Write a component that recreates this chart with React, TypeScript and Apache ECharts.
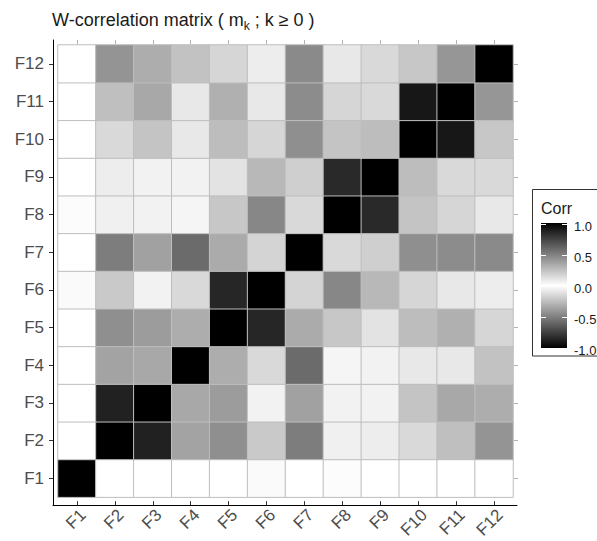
import React, { useEffect, useRef } from 'react';
import * as echarts from 'echarts';

const categories = ['F1', 'F2', 'F3', 'F4', 'F5', 'F6', 'F7', 'F8', 'F9', 'F10', 'F11', 'F12'];

const rowF1 = [1, 0, 0, 0, 0, 0.02, 0, 0.01, 0, 0, 0, 0];
const rowF2 = [0, 1, 0.87, 0.36, 0.44, 0.21, 0.51, 0.06, 0.07, 0.15, 0.25, 0.42];
const rowF3 = [0, 0.87, 1, 0.34, 0.39, 0.05, 0.37, 0.05, 0.05, 0.23, 0.34, 0.32];
const rowF4 = [0, 0.36, 0.34, 1, 0.32, 0.15, 0.58, 0.04, 0.05, 0.09, 0.09, 0.24];
const rowF5 = [0, 0.44, 0.39, 0.32, 1, 0.85, 0.33, 0.22, 0.11, 0.26, 0.31, 0.16];
const rowF6 = [0.02, 0.21, 0.05, 0.15, 0.85, 1, 0.17, 0.47, 0.28, 0.16, 0.09, 0.07];
const rowF7 = [0, 0.51, 0.37, 0.58, 0.33, 0.17, 1, 0.15, 0.19, 0.44, 0.45, 0.46];
const rowF8 = [0.01, 0.06, 0.05, 0.04, 0.22, 0.47, 0.15, 1, 0.84, 0.23, 0.16, 0.09];
const rowF9 = [0, 0.07, 0.05, 0.05, 0.11, 0.28, 0.19, 0.84, 1, 0.26, 0.15, 0.15];
const rowF10 = [0, 0.15, 0.23, 0.09, 0.26, 0.16, 0.44, 0.23, 0.26, 1, 0.91, 0.22];
const rowF11 = [0, 0.25, 0.34, 0.09, 0.31, 0.09, 0.45, 0.16, 0.15, 0.91, 1, 0.41];
const rowF12 = [0, 0.42, 0.32, 0.24, 0.16, 0.07, 0.46, 0.09, 0.15, 0.22, 0.41, 1];

const corrRows = [rowF1, rowF2, rowF3, rowF4, rowF5, rowF6, rowF7, rowF8, rowF9, rowF10, rowF11, rowF12];

const legendBreaks = [1, 0.5, 0, -0.5, -1];
const legendLabels = ['1.0', '0.5', '0.0', '-0.5', '-1.0'];
const corrColors = ['#000000', '#ffffff', '#000000'];

export default function App() {
  const ref = useRef<HTMLDivElement>(null);

  useEffect(() => {
    document.body.style.margin = '0';
    const chart = echarts.init(ref.current!, null, { renderer: 'svg' });
    const font = '"Liberation Sans", Arial, sans-serif';

    const data: number[][] = [];
    corrRows.forEach((row, yi) => row.forEach((v, xi) => data.push([xi, yi, v])));

    const barX = 541, barY = 223, barW = 26, barH = 125;
    const yOf = (v: number) => barY + 0.5 + ((1 - v) / 2) * (barH - 1);

    const legendEls: any[] = [
      { type: 'rect', z: 1, shape: { x: 532.5, y: 189.5, width: 80, height: 166.5 }, style: { fill: '#ffffff' } },
      {
        type: 'text', z: 2,
        style: { text: 'Corr', x: 541, y: 208, fill: '#1a1a1a', font: '16px ' + font, textAlign: 'left', textVerticalAlign: 'middle' },
      },
      {
        type: 'rect', z: 2,
        shape: { x: barX, y: barY, width: barW, height: barH },
        style: {
          fill: new echarts.graphic.LinearGradient(0, 0, 0, 1, corrColors.map((c, i) => ({ offset: i / (corrColors.length - 1), color: c }))),
        },
      },
    ];
    legendBreaks.forEach((b, i) => {
      const y = Math.round(yOf(b)) + 0.5;
      legendEls.push({ type: 'line', z: 3, shape: { x1: barX, y1: y, x2: barX + 5, y2: y }, style: { stroke: '#ffffff', lineWidth: 1 } });
      legendEls.push({ type: 'line', z: 3, shape: { x1: barX + barW - 5, y1: y, x2: barX + barW, y2: y }, style: { stroke: '#ffffff', lineWidth: 1 } });
      legendEls.push({
        type: 'text', z: 3,
        style: { text: legendLabels[i], x: 574, y: yOf(b) + 2.5, fill: '#1a1a1a', font: '13px ' + font, textAlign: 'left', textVerticalAlign: 'middle' },
      });
    });
    legendEls.push({ type: 'rect', z: 10, shape: { x: 533, y: 356.5, width: 70, height: 20 }, style: { fill: '#ffffff' } });
    legendEls.push({ type: 'rect', z: 11, shape: { x: 532.5, y: 189.5, width: 80, height: 166.5 }, style: { fill: 'none', stroke: '#333333', lineWidth: 1 } });

    const hiddenValueAxis = (gridIndex: number) => ({
      type: 'value', gridIndex, min: 0, max: 1,
      axisLine: { show: true, onZero: false, lineStyle: { color: '#000000', width: 1 } },
      axisTick: { show: false }, axisLabel: { show: false }, splitLine: { show: false },
    });

    chart.setOption({
      animation: false,
      backgroundColor: '#ffffff',
      title: {
        left: 52, top: 8, padding: 0,
        text: 'W-correlation matrix ( m{sub|k} ; k ≥ 0 )',
        textStyle: {
          fontFamily: font, fontSize: 18, fontWeight: 'normal', color: '#1a1a1a', lineHeight: 24,
          rich: { sub: { fontFamily: font, fontSize: 12, lineHeight: 12, verticalAlign: 'bottom', color: '#1a1a1a' } },
        },
      },
      grid: [
        { left: 58, top: 45, width: 455, height: 456, containLabel: false },
        { left: 53, top: 40, width: 464, height: 465, containLabel: false },
      ],
      xAxis: [
        {
          type: 'category', gridIndex: 0, position: 'bottom', data: categories, offset: 4,
          axisLine: { show: false },
          axisTick: { show: true, alignWithLabel: true, length: 4, lineStyle: { color: '#333333' } },
          axisLabel: { rotate: 45, fontSize: 17, color: '#4d4d4d', fontFamily: font, margin: 5, align: 'right', verticalAlign: 'top' },
          splitLine: { show: false },
        },
        {
          type: 'category', gridIndex: 0, position: 'top', data: categories, offset: 1,
          axisLine: { show: false },
          axisTick: { show: true, alignWithLabel: true, length: 4, lineStyle: { color: '#b3b3b3' } },
          axisLabel: { show: false }, splitLine: { show: false },
        },
        hiddenValueAxis(1),
      ],
      yAxis: [
        {
          type: 'category', gridIndex: 0, position: 'left', data: categories, offset: 5,
          axisLine: { show: false },
          axisTick: { show: true, alignWithLabel: true, length: 4, lineStyle: { color: '#333333' } },
          axisLabel: { fontSize: 17, color: '#4d4d4d', fontFamily: font, margin: 9 },
          splitLine: { show: false },
        },
        {
          type: 'category', gridIndex: 0, position: 'right', data: categories, offset: 1,
          axisLine: { show: false },
          axisTick: { show: true, alignWithLabel: true, length: 4, lineStyle: { color: '#b3b3b3' } },
          axisLabel: { show: false }, splitLine: { show: false },
        },
        hiddenValueAxis(1),
      ],
      visualMap: {
        type: 'continuous', show: false, min: -1, max: 1, dimension: 2, seriesIndex: 0,
        inRange: { color: corrColors },
      },
      series: [
        {
          type: 'heatmap', xAxisIndex: 0, yAxisIndex: 0, data,
          itemStyle: { borderColor: '#bebebe', borderWidth: 1 },
          emphasis: { disabled: true }, silent: true,
        },
      ],
      graphic: legendEls,
    });

    return () => chart.dispose();
  }, []);

  return <div ref={ref} style={{ width: 597, height: 541 }} />;
}
